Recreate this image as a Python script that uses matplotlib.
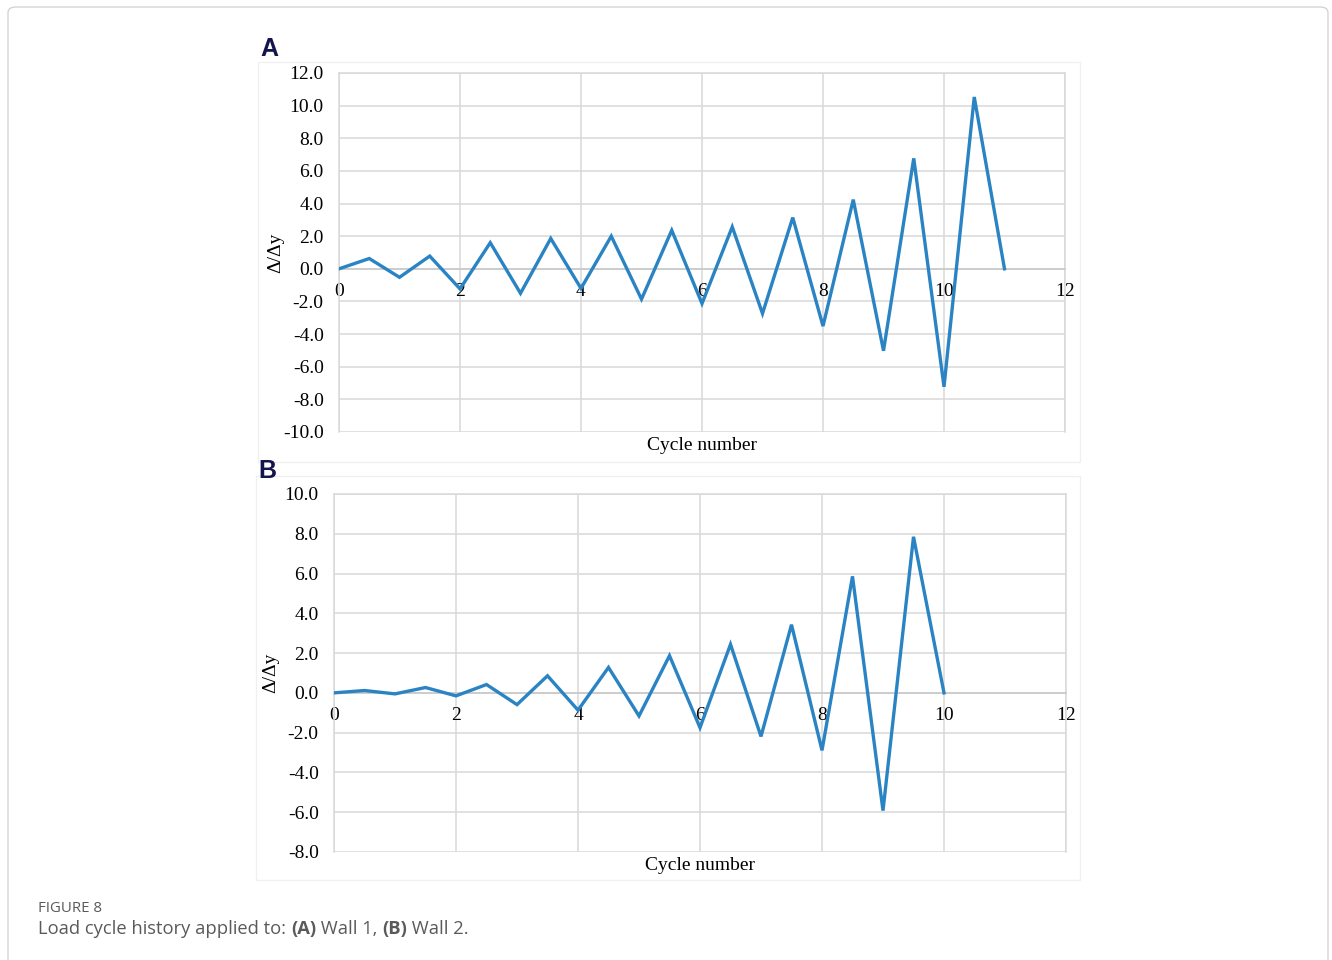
import numpy as np
import matplotlib.pyplot as plt
from matplotlib.patches import FancyBboxPatch, Rectangle
from matplotlib.ticker import FuncFormatter

plt.rcParams['axes.unicode_minus'] = False

# displacement ratio at every half cycle
wall1_cycles = [0, 0.5, 1, 1.5, 2, 2.5, 3, 3.5, 4, 4.5, 5, 5.5, 6, 6.5, 7, 7.5,
                8, 8.5, 9, 9.5, 10, 10.5, 11]
wall1_ratio = [0, 0.63, -0.52, 0.78, -1.23, 1.60, -1.50, 1.86, -1.20, 2.00, -1.86,
               2.36, -2.13, 2.57, -2.74, 3.14, -3.51, 4.24, -5.02, 6.77, -7.23,
               10.53, 0]

wall2_cycles = [0, 0.5, 1, 1.5, 2, 2.5, 3, 3.5, 4, 4.5, 5, 5.5, 6, 6.5, 7, 7.5,
                8, 8.5, 9, 9.5, 10]
wall2_ratio = [0, 0.12, -0.05, 0.27, -0.15, 0.42, -0.59, 0.86, -0.87, 1.28, -1.16,
               1.87, -1.75, 2.44, -2.19, 3.43, -2.89, 5.86, -5.92, 7.85, 0]

x_ticks = [0, 2, 4, 6, 8, 10, 12]
wall1_yticks = [-10, -8, -6, -4, -2, 0, 2, 4, 6, 8, 10, 12]
wall2_yticks = [-8, -6, -4, -2, 0, 2, 4, 6, 8, 10]

LINE = '#2a84c4'
GRID = '#d9d9d9'
SERIF = 'Liberation Serif'
W, H = 1332, 960

fig = plt.figure(figsize=(W / 100, H / 100), dpi=100)

# outer frame of the figure panel
fig.patches.append(FancyBboxPatch((8 / W, -0.05), 1320 / W, 1.0 - 7 / H + 0.05,
                                  boxstyle='round,pad=0,rounding_size=0.006',
                                  transform=fig.transFigure, facecolor='white',
                                  edgecolor='#d4d4d4', lw=1.0, zorder=-10))


def draw_panel(rect, chart_box, cycles, ratio, yticks, letter, letter_xy):
    # faint chart-area border
    fig.patches.append(Rectangle(chart_box[:2], chart_box[2], chart_box[3],
                                 transform=fig.transFigure, facecolor='none',
                                 edgecolor='#f0f0f0', lw=1.0, zorder=-5))
    ax = fig.add_axes(rect)
    ax.plot(cycles, ratio, color=LINE, lw=2.4, solid_joinstyle='miter', zorder=3)
    ax.set_xlim(0, 12)
    ax.set_ylim(yticks[0], yticks[-1])
    ax.set_xticks(x_ticks)
    ax.set_yticks(yticks)
    ax.yaxis.set_major_formatter(FuncFormatter(lambda v, p: f'{v:.1f}'))
    ax.grid(True, color=GRID, lw=1.1)
    ax.set_axisbelow(True)
    for side in ['left', 'right', 'top']:
        ax.spines[side].set_color(GRID)
        ax.spines[side].set_linewidth(1.1)
    ax.spines['bottom'].set_position(('data', 0))
    ax.spines['bottom'].set_color('#c8c8c8')
    ax.spines['bottom'].set_linewidth(1.1)
    ax.tick_params(axis='both', length=0, labelsize=14, colors='black')
    ax.tick_params(axis='y', pad=11)
    ax.tick_params(axis='x', pad=10)
    for lab in ax.get_xticklabels() + ax.get_yticklabels():
        lab.set_fontfamily(SERIF)
    ax.text(0.5, -0.038, 'Cycle number', transform=ax.transAxes, ha='center',
            va='center', fontsize=14, family=SERIF)
    ax.text(-63 / (rect[2] * W), 0.5, 'Δ/Δy', transform=ax.transAxes, ha='center',
            va='center', rotation=90, fontsize=14, family=SERIF)
    fig.text(letter_xy[0], letter_xy[1], letter, fontsize=18, fontweight='bold',
             family='Liberation Sans', color='#14144e', ha='left', va='center')
    return ax


draw_panel([339 / W, 1 - 432 / H, 726 / W, 359 / H],
           [258 / W, 1 - 462 / H, 822 / W, 400 / H],
           wall1_cycles, wall1_ratio, wall1_yticks, 'A', (260 / W, 1 - 49 / H))
draw_panel([334 / W, 1 - 852 / H, 732 / W, 358 / H],
           [256 / W, 1 - 880 / H, 824 / W, 404 / H],
           wall2_cycles, wall2_ratio, wall2_yticks, 'B', (258 / W, 1 - 471 / H))

# caption
CAP = '#5a5a5a'
fig.text(38 / W, 1 - 909 / H, 'FIGURE 8', fontsize=10.8, family='Open Sans',
         color=CAP, va='center')

pieces = [('Load cycle history applied to: ', 'normal'), ('(A)', 'bold'),
          (' Wall 1, ', 'normal'), ('(B)', 'bold'), (' Wall 2.', 'normal')]
fig.canvas.draw()
renderer = fig.canvas.get_renderer()
x = 38 / W
for txt, weight in pieces:
    t = fig.text(x, 1 - 929 / H, txt, fontsize=13.2, family='Open Sans',
                 fontweight=weight, color=CAP, va='center')
    bb = t.get_window_extent(renderer)
    x += bb.width / fig.bbox.width

fig.savefig('out.png', dpi=100)
